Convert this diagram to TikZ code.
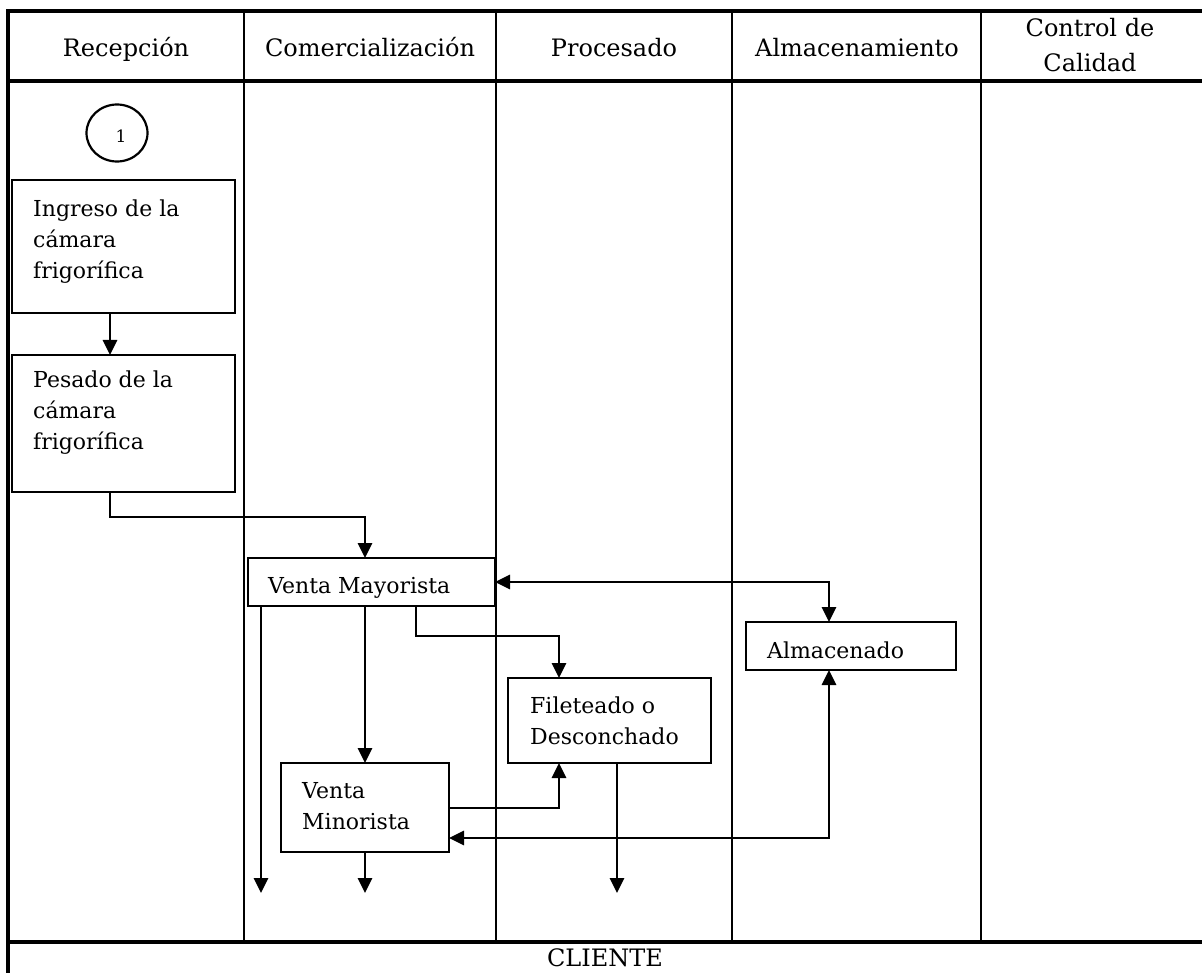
\documentclass[tikz,border=0pt]{standalone}
\usepackage{fontspec}
\setmainfont{DejaVu Serif}
\usetikzlibrary{arrows.meta,calc,shapes.geometric}
\begin{document}
\begin{tikzpicture}[x=1pt,y=-1pt,
  frame/.style={line width=3.4pt},
  lane/.style={line width=2.2pt},
  box/.style={draw,line width=2.2pt,inner sep=0pt,outer sep=0pt,anchor=north west},
  hdr/.style={font=\fontsize{24}{35}\selectfont,inner sep=0pt,anchor=base},
  txt/.style={font=\fontsize{22}{31}\selectfont,inner sep=0pt,anchor=base west},
  arr/.style={line width=2.8pt,-{Triangle[length=15pt,width=14pt]}},
  darr/.style={line width=2.8pt,{Triangle[length=15pt,width=14pt]}-{Triangle[length=15pt,width=14pt]}}]
\useasboundingbox (0,0) rectangle (1202,973);
% table
\draw[frame] (8,11) rectangle (1212,990);
\draw[frame] (8,81) -- (1212,81);
\draw[frame] (8,942) -- (1212,942);
\foreach \x in {244,496,732,981} \draw[lane] (\x,11) -- (\x,942);
% headers
\node[hdr] (h1) at (126,57) {Recepción};
\node[hdr] (h2) at (370,57) {Comercialización};
\node[hdr] (h3) at (614,57) {Procesado};
\node[hdr] (h4) at (857,57) {Almacenamiento};
\node[hdr] (h5) at (1090,37) {\parbox[t]{160pt}{\centering Control de\\Calidad}};
\node[hdr] (cl) at (605,966) {CLIENTE};
% start
\node[draw,ellipse,line width=2.2pt,minimum width=61pt,minimum height=57pt,inner sep=0pt] (s1) at (117,133) {};
\node[inner sep=0pt,font=\fontsize{17}{20}\selectfont] (s1t) at (121,136) {1};
% boxes
\node[box,minimum width=223pt,minimum height=133pt] (ing) at (12,180) {};
\node[box,minimum width=223pt,minimum height=137pt] (pes) at (12,355) {};
\node[box,minimum width=247pt,minimum height=48pt] (may) at (248,558) {};
\node[box,minimum width=203pt,minimum height=85pt] (fil) at (508,678) {};
\node[box,minimum width=210pt,minimum height=48pt] (alm) at (746,622) {};
\node[box,minimum width=168pt,minimum height=89pt] (min) at (281,763) {};
% texts
\node[txt] (ingt) at (33,217) {\parbox[t]{200pt}{Ingreso de la\\cámara\\frigorífica}};
\node[txt] (pest) at (33,388) {\parbox[t]{200pt}{Pesado de la\\cámara\\frigorífica}};
\node[txt] (mayt) at (268,593) {Venta Mayorista};
\node[txt] (filt) at (530,713) {\parbox[t]{200pt}{Fileteado o\\Desconchado}};
\node[txt] (almt) at (767,658) {Almacenado};
\node[txt] (mint) at (302,798) {\parbox[t]{150pt}{Venta\\Minorista}};
% helper coordinates
\coordinate (k0) at (110,517);
\coordinate (k1) at (365,517);
\coordinate (k2) at (416,636);
\coordinate (k3) at (559,636);
\coordinate (k4) at (829,582);
\coordinate (k5) at (829,838);
\coordinate (k6) at (559,808);
\coordinate (c1) at (261,893);
\coordinate (c2) at (365,893);
\coordinate (c3) at (617,893);
% connectors
\draw[arr] (ing.south -| k0) -- (pes.north -| k0);
\draw[arr] (pes.south -| k0) -- (k0) -- (k1) -- (may.north -| k1);
\draw[arr] (may.south -| c2) -- (min.north -| c2);
\draw[arr] (may.south -| c1) -- (c1);
\draw[arr] (may.south -| k2) -- (k2) -- (k3) -- (fil.north -| k3);
\draw[darr] (k4 -| may.east) -- (k4) -- (alm.north -| k4);
\draw[arr] (k6 -| min.east) -- (k6) -- (fil.south -| k6);
\draw[darr] (k5 -| min.east) -- (k5) -- (alm.south -| k5);
\draw[arr] (min.south -| c2) -- (c2);
\draw[arr] (fil.south -| c3) -- (c3);
\end{tikzpicture}
\end{document}
